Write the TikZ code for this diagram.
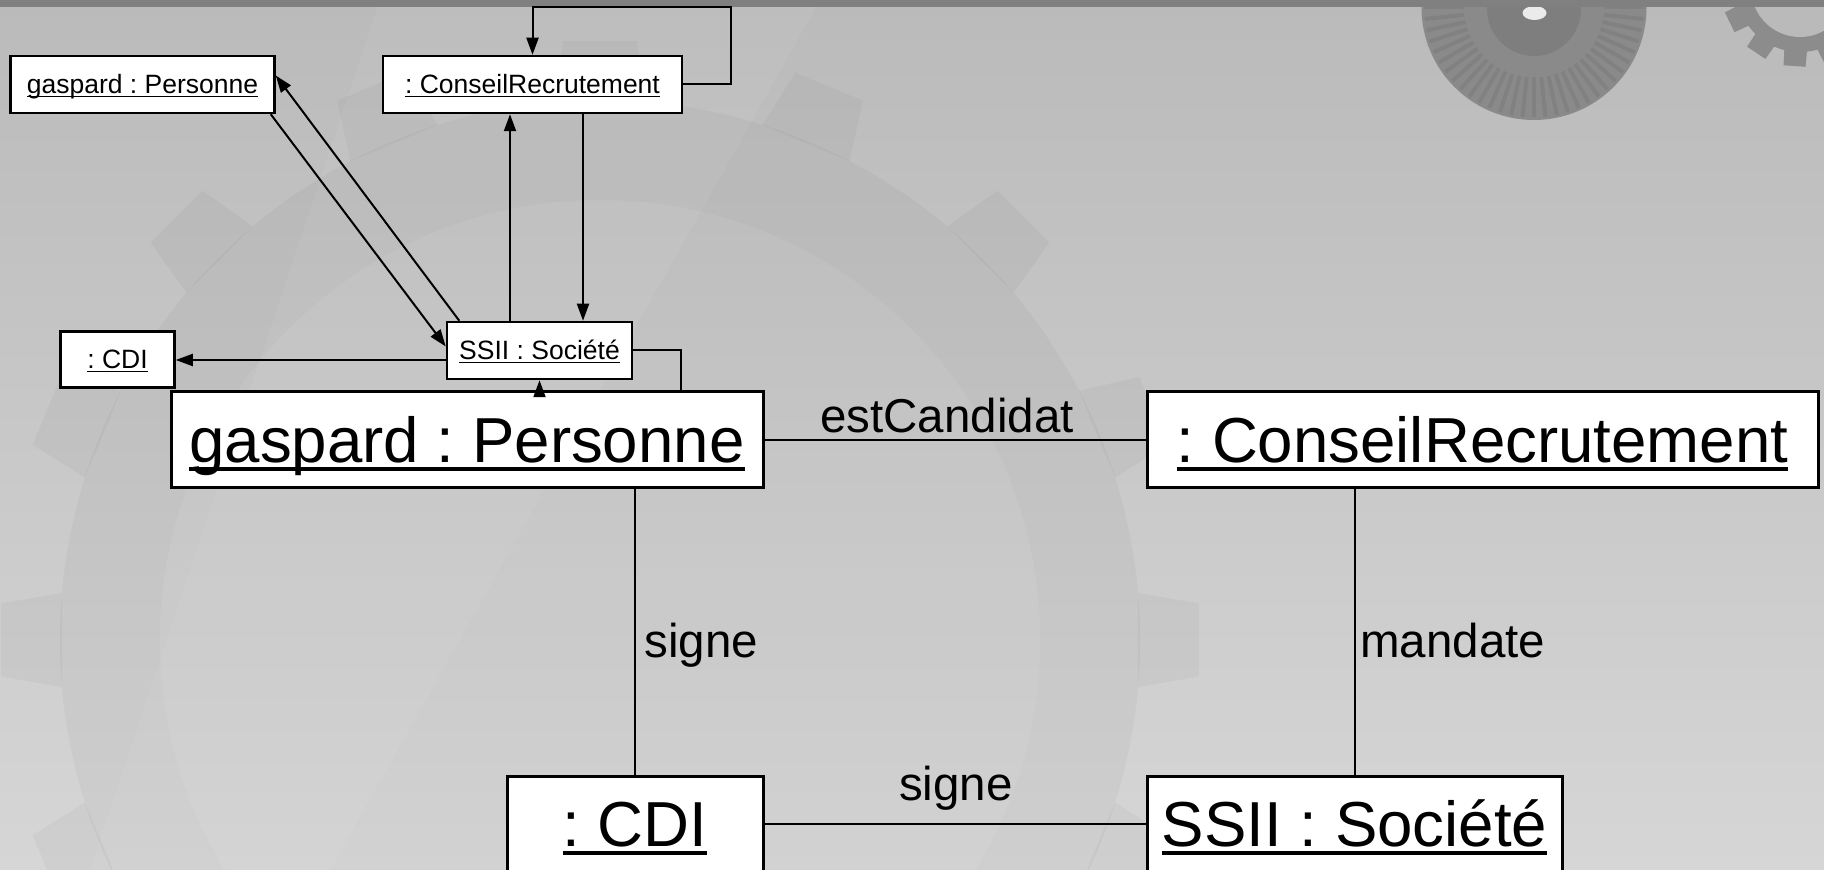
\documentclass[tikz,border=0pt]{standalone}
\usepackage{fontspec}
\setmainfont{Liberation Sans}
\usetikzlibrary{arrows.meta,calc}

% UML object name: text with a thin underline just below the baseline
\newcommand{\umlname}[1]{\setbox0=\hbox{#1}\rlap{\rule[-0.12em]{\wd0}{0.05em}}\box0}

\definecolor{bgtop}{HTML}{BABABA}
\definecolor{bgbot}{HTML}{D6D6D6}
\definecolor{bar}{HTML}{808080}
\definecolor{discgray}{HTML}{8A8A8A}
\definecolor{discin}{HTML}{7E7E7E}
\definecolor{cog}{HTML}{8C8C8C}

\begin{document}
\frenchspacing
\begin{tikzpicture}[x=0.5pt,y=-0.5pt,
  obj/.style={draw, fill=white, inner sep=0pt, text depth=0pt},
  smallobj/.style={obj, line width=1.25pt, minimum height=28.5pt, text height=9.5pt,
    font=\fontsize{13.25pt}{15pt}\selectfont},
  bigobj/.style={obj, line width=1.5pt, minimum height=48pt, text height=22.9pt,
    font=\fontsize{31.8pt}{36pt}\selectfont},
  link/.style={line width=1pt},
  msg/.style={line width=1pt, -{Triangle[length=8.5pt,width=6pt]}},
  lbl/.style={font=\fontsize{23.75pt}{28pt}\selectfont, inner sep=0pt},
]
\useasboundingbox (0,0) rectangle (1824,870);

% ---------- backdrop ----------
\shade[top color=bgtop, bottom color=bgbot] (0,0) rectangle (1824,870);
% faint large cog behind the diagram
\fill[black, opacity=0.03] (600,640) circle (540);
\foreach \a in {0,22.5,...,337.5}{
  \fill[black, opacity=0.03]
    ({600+540*cos(\a-5)},{640+540*sin(\a-5)}) --
    ({600+600*cos(\a-3.5)},{640+600*sin(\a-3.5)}) --
    ({600+600*cos(\a+3.5)},{640+600*sin(\a+3.5)}) --
    ({600+540*cos(\a+5)},{640+540*sin(\a+5)}) -- cycle;
}
\fill[white, opacity=0.07] (600,640) circle (440);
\fill[white, opacity=0.05] (380,0) -- (820,0) -- (330,870) -- (90,870) -- cycle;

% disc at the top right
\fill[discgray] (1534,7.5) circle (112.5);
\foreach \a in {0,6,...,354}{
  \draw[black, opacity=0.06, line width=2pt]
    ({1534+70*cos(\a)},{7.5+70*sin(\a)}) -- ({1534+110*cos(\a)},{7.5+110*sin(\a)});
}
\fill[discin] (1534,9) circle (47);
\fill[white!92!black] (1534.5,13) ellipse [x radius=12, y radius=7];

% small cog in the corner
\fill[cog] (1800,-12) circle (64);
\foreach \a in {4,34,...,334}{
  \fill[cog]
    ({1800+60*cos(\a-11)},{-12+60*sin(\a-11)}) --
    ({1800+79*cos(\a-8)},{-12+79*sin(\a-8)}) --
    ({1800+79*cos(\a+8)},{-12+79*sin(\a+8)}) --
    ({1800+60*cos(\a+11)},{-12+60*sin(\a+11)}) -- cycle;
}
\fill[bgtop] (1800,-12) circle (49);

% title bar
\fill[bar] (0,0) rectangle (1824,7);

% ---------- small collaboration diagram ----------
\node[smallobj, minimum width=132pt]  (sg) at (142.5,84.5) {\umlname{gaspard : Personne}};
\node[smallobj, minimum width=149.5pt] (sc) at (532.5,84.5) {\umlname{: ConseilRecrutement}};
\node[smallobj, minimum width=92.5pt] (ss) at (539.5,350.5) {\umlname{SSII : Société}};
\node[smallobj, minimum width=57pt, minimum height=28pt] (sd) at (117.5,359.5) {\umlname{: CDI}};

% ---------- large object diagram ----------
\node[bigobj, minimum width=296pt]   (bg) at (467,440)    {\umlname{gaspard : Personne}};
\node[bigobj, minimum width=335.5pt] (bc) at (1482.5,440) {\umlname{: ConseilRecrutement}};
\node[bigobj, minimum width=128pt]   (bd) at (635,824)    {\umlname{: CDI}};
\node[bigobj, minimum width=207.5pt] (bs) at (1354.5,824) {\umlname{SSII : Société}};

% ---------- messages between small objects ----------
\coordinate (loop) at (731,7);
\draw[msg] (sc.east) -| (loop) -| (sc.north);

\draw[msg] ([xshift=-2.5pt]sg.south east) -- ([yshift=2pt]ss.west);
\draw[msg] ([xshift=6.75pt]ss.north west) -- ([yshift=4.5pt]sg.east);

\coordinate (up1) at ($(ss.north)+(-29.5,0)$);
\draw[msg] (up1) -- (up1 |- sc.south);
\coordinate (dn1) at ($(sc.south)+(50.5,0)$);
\draw[msg] (dn1) -- (dn1 |- ss.north);

\coordinate (lf1) at ($(ss.west)+(0,9.5)$);
\draw[msg] (lf1) -- (lf1 -| sd.east);

\coordinate (rt1) at (681,0);
\draw[link] (ss.east) -| (rt1 |- bg.north);
\draw[msg] (ss.south |- bg.north) -- (ss.south);

% ---------- links between large objects ----------
\draw[link] (bg.east) -- (bc.west);
\draw[link] (bd.north) -- (bd.north |- bg.south);
\draw[link] (bs.north) -- (bs.north |- bc.south);
\draw[link] (bd.east) -- (bs.west);

\node[lbl, anchor=base] (lcand) at (947,433) {estCandidat};
\node[lbl, anchor=base west] (lsig1) at (644,657) {signe};
\node[lbl, anchor=base west] (lmand) at (1360,657) {mandate};
\node[lbl, anchor=base] (lsig2) at (956,800) {signe};
\end{tikzpicture}
\end{document}
